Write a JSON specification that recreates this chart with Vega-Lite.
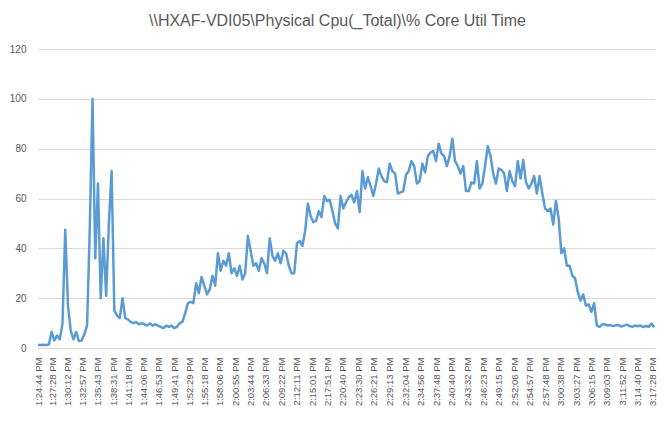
{
  "$schema": "https://vega.github.io/schema/vega-lite/v6.json",
  "width": 617,
  "height": 299,
  "autosize": "none",
  "padding": {"left": 38, "top": 49, "right": 17, "bottom": 74},
  "background": "white",
  "title": {"text": "\\\\HXAF-VDI05\\Physical Cpu(_Total)\\% Core Util Time", "fontSize": 16, "font": "Liberation Sans", "fontWeight": "normal", "color": "#595959", "anchor": "middle", "offset": 15, "dx": -9},
  "config": {"view": {"stroke": null}},
  "data": {
    "format": {"parse": {"t": "date:'%H:%M:%S'"}},
    "values": [
      {"t": "13:24:44", "v": 1.2}, {"t": "13:25:14", "v": 1.2}, {"t": "13:25:44", "v": 1.3}, {"t": "13:26:14", "v": 1.2},
      {"t": "13:26:44", "v": 1.4}, {"t": "13:27:14", "v": 6.5}, {"t": "13:27:44", "v": 3}, {"t": "13:28:14", "v": 5},
      {"t": "13:28:44", "v": 3.5}, {"t": "13:29:14", "v": 10}, {"t": "13:29:44", "v": 47.5}, {"t": "13:30:14", "v": 17},
      {"t": "13:30:44", "v": 7}, {"t": "13:31:14", "v": 3.5}, {"t": "13:31:44", "v": 6.5}, {"t": "13:32:14", "v": 2.8},
      {"t": "13:32:44", "v": 3}, {"t": "13:33:14", "v": 5.5}, {"t": "13:33:44", "v": 9}, {"t": "13:34:14", "v": 48},
      {"t": "13:34:44", "v": 100}, {"t": "13:35:14", "v": 36}, {"t": "13:35:44", "v": 66}, {"t": "13:36:14", "v": 20},
      {"t": "13:36:44", "v": 44}, {"t": "13:37:14", "v": 21}, {"t": "13:37:44", "v": 50}, {"t": "13:38:14", "v": 71},
      {"t": "13:38:44", "v": 15}, {"t": "13:39:14", "v": 13}, {"t": "13:39:44", "v": 12}, {"t": "13:40:14", "v": 20},
      {"t": "13:40:44", "v": 12}, {"t": "13:41:14", "v": 11.5}, {"t": "13:41:44", "v": 10.5}, {"t": "13:42:14", "v": 10},
      {"t": "13:42:44", "v": 10.5}, {"t": "13:43:14", "v": 9.5}, {"t": "13:43:44", "v": 10}, {"t": "13:44:14", "v": 9.5},
      {"t": "13:44:44", "v": 9}, {"t": "13:45:14", "v": 9.8}, {"t": "13:45:44", "v": 9}, {"t": "13:46:14", "v": 9.5},
      {"t": "13:46:44", "v": 9}, {"t": "13:47:14", "v": 8.5}, {"t": "13:47:44", "v": 8}, {"t": "13:48:14", "v": 9},
      {"t": "13:48:44", "v": 8.5}, {"t": "13:49:14", "v": 9}, {"t": "13:49:44", "v": 8}, {"t": "13:50:14", "v": 8.5},
      {"t": "13:50:44", "v": 10}, {"t": "13:51:14", "v": 10.5}, {"t": "13:51:44", "v": 14}, {"t": "13:52:14", "v": 18},
      {"t": "13:52:44", "v": 18.5}, {"t": "13:53:14", "v": 18}, {"t": "13:53:44", "v": 26}, {"t": "13:54:14", "v": 22},
      {"t": "13:54:44", "v": 28.5}, {"t": "13:55:14", "v": 25}, {"t": "13:55:44", "v": 21.5}, {"t": "13:56:14", "v": 23.5},
      {"t": "13:56:44", "v": 29}, {"t": "13:57:14", "v": 25}, {"t": "13:57:44", "v": 38}, {"t": "13:58:14", "v": 31},
      {"t": "13:58:44", "v": 35}, {"t": "13:59:14", "v": 33}, {"t": "13:59:44", "v": 38}, {"t": "14:00:14", "v": 30},
      {"t": "14:00:44", "v": 32}, {"t": "14:01:14", "v": 29}, {"t": "14:01:44", "v": 33}, {"t": "14:02:14", "v": 27.5},
      {"t": "14:02:44", "v": 30}, {"t": "14:03:14", "v": 45}, {"t": "14:03:44", "v": 39}, {"t": "14:04:14", "v": 33},
      {"t": "14:04:44", "v": 34}, {"t": "14:05:14", "v": 31}, {"t": "14:05:44", "v": 36}, {"t": "14:06:14", "v": 34},
      {"t": "14:06:44", "v": 30}, {"t": "14:07:14", "v": 44}, {"t": "14:07:44", "v": 37}, {"t": "14:08:14", "v": 35},
      {"t": "14:08:44", "v": 38}, {"t": "14:09:14", "v": 34}, {"t": "14:09:44", "v": 39}, {"t": "14:10:14", "v": 38},
      {"t": "14:10:44", "v": 33}, {"t": "14:11:14", "v": 30}, {"t": "14:11:44", "v": 30}, {"t": "14:12:14", "v": 42},
      {"t": "14:12:44", "v": 43}, {"t": "14:13:14", "v": 41}, {"t": "14:13:44", "v": 47}, {"t": "14:14:14", "v": 58},
      {"t": "14:14:44", "v": 53}, {"t": "14:15:14", "v": 50.5}, {"t": "14:15:44", "v": 51}, {"t": "14:16:14", "v": 55},
      {"t": "14:16:44", "v": 52.5}, {"t": "14:17:14", "v": 61}, {"t": "14:17:44", "v": 59}, {"t": "14:18:14", "v": 59.5},
      {"t": "14:18:44", "v": 55}, {"t": "14:19:14", "v": 50}, {"t": "14:19:44", "v": 48}, {"t": "14:20:14", "v": 61},
      {"t": "14:20:44", "v": 56}, {"t": "14:21:14", "v": 58.5}, {"t": "14:21:44", "v": 60.5}, {"t": "14:22:14", "v": 61.5},
      {"t": "14:22:44", "v": 58.5}, {"t": "14:23:14", "v": 63}, {"t": "14:23:44", "v": 54.5}, {"t": "14:24:14", "v": 71},
      {"t": "14:24:44", "v": 64}, {"t": "14:25:14", "v": 68.5}, {"t": "14:25:44", "v": 65}, {"t": "14:26:14", "v": 61},
      {"t": "14:26:44", "v": 66}, {"t": "14:27:14", "v": 72}, {"t": "14:27:44", "v": 69}, {"t": "14:28:14", "v": 67},
      {"t": "14:28:44", "v": 66.5}, {"t": "14:29:14", "v": 74}, {"t": "14:29:44", "v": 71}, {"t": "14:30:14", "v": 70},
      {"t": "14:30:44", "v": 62}, {"t": "14:31:14", "v": 62.5}, {"t": "14:31:44", "v": 63}, {"t": "14:32:14", "v": 69.5},
      {"t": "14:32:44", "v": 71}, {"t": "14:33:14", "v": 75}, {"t": "14:33:44", "v": 73}, {"t": "14:34:14", "v": 66},
      {"t": "14:34:44", "v": 67}, {"t": "14:35:14", "v": 74}, {"t": "14:35:44", "v": 70.5}, {"t": "14:36:14", "v": 77},
      {"t": "14:36:44", "v": 78.5}, {"t": "14:37:14", "v": 79}, {"t": "14:37:44", "v": 75}, {"t": "14:38:14", "v": 82},
      {"t": "14:38:44", "v": 78}, {"t": "14:39:14", "v": 77}, {"t": "14:39:44", "v": 73}, {"t": "14:40:14", "v": 77},
      {"t": "14:40:44", "v": 84}, {"t": "14:41:14", "v": 75}, {"t": "14:41:44", "v": 73}, {"t": "14:42:14", "v": 70},
      {"t": "14:42:44", "v": 73}, {"t": "14:43:14", "v": 63}, {"t": "14:43:44", "v": 63}, {"t": "14:44:14", "v": 66.5},
      {"t": "14:44:44", "v": 66}, {"t": "14:45:14", "v": 75}, {"t": "14:45:44", "v": 64}, {"t": "14:46:14", "v": 66},
      {"t": "14:46:44", "v": 73}, {"t": "14:47:14", "v": 81}, {"t": "14:47:44", "v": 77}, {"t": "14:48:14", "v": 70},
      {"t": "14:48:44", "v": 66}, {"t": "14:49:14", "v": 72}, {"t": "14:49:44", "v": 71.5}, {"t": "14:50:14", "v": 70},
      {"t": "14:50:44", "v": 63}, {"t": "14:51:14", "v": 71}, {"t": "14:51:44", "v": 67}, {"t": "14:52:14", "v": 65},
      {"t": "14:52:44", "v": 75}, {"t": "14:53:14", "v": 68}, {"t": "14:53:44", "v": 75.5}, {"t": "14:54:14", "v": 66.5},
      {"t": "14:54:44", "v": 64}, {"t": "14:55:14", "v": 66}, {"t": "14:55:44", "v": 69}, {"t": "14:56:14", "v": 62},
      {"t": "14:56:44", "v": 69}, {"t": "14:57:14", "v": 62}, {"t": "14:57:44", "v": 56}, {"t": "14:58:14", "v": 55},
      {"t": "14:58:44", "v": 56}, {"t": "14:59:14", "v": 49.5}, {"t": "14:59:44", "v": 59}, {"t": "15:00:14", "v": 52},
      {"t": "15:00:44", "v": 38}, {"t": "15:01:14", "v": 40}, {"t": "15:01:44", "v": 33}, {"t": "15:02:14", "v": 33},
      {"t": "15:02:44", "v": 29}, {"t": "15:03:14", "v": 28}, {"t": "15:03:44", "v": 22.5}, {"t": "15:04:14", "v": 19},
      {"t": "15:04:44", "v": 21.5}, {"t": "15:05:14", "v": 17}, {"t": "15:05:44", "v": 17.5}, {"t": "15:06:14", "v": 14.5},
      {"t": "15:06:44", "v": 18}, {"t": "15:07:14", "v": 9}, {"t": "15:07:44", "v": 8.5}, {"t": "15:08:14", "v": 9.5},
      {"t": "15:08:44", "v": 9.5}, {"t": "15:09:14", "v": 9}, {"t": "15:09:44", "v": 9.2}, {"t": "15:10:14", "v": 8.8},
      {"t": "15:10:44", "v": 9}, {"t": "15:11:14", "v": 9.2}, {"t": "15:11:44", "v": 8.6}, {"t": "15:12:14", "v": 9},
      {"t": "15:12:44", "v": 9.4}, {"t": "15:13:14", "v": 8.8}, {"t": "15:13:44", "v": 8.5}, {"t": "15:14:14", "v": 9},
      {"t": "15:14:44", "v": 8.7}, {"t": "15:15:14", "v": 9}, {"t": "15:15:44", "v": 8.4}, {"t": "15:16:14", "v": 8.8},
      {"t": "15:16:44", "v": 8.5}, {"t": "15:17:14", "v": 9.8}, {"t": "15:17:44", "v": 8.3}
    ]
  },
  "mark": {"type": "line", "color": "#5B9BD5", "strokeWidth": 2.5, "strokeJoin": "round"},
  "encoding": {
    "x": {
      "field": "t",
      "type": "temporal",
      "scale": {"domain": [
        {"year": 1900, "month": 1, "date": 1, "hours": 13, "minutes": 24, "seconds": 44},
        {"year": 1900, "month": 1, "date": 1, "hours": 15, "minutes": 17, "seconds": 54}
      ]},
      "axis": {
        "title": null,
        "format": "%-I:%M:%S %p",
        "labelAngle": -90,
        "labelFontSize": 9.5,
        "labelFont": "Liberation Sans",
        "labelColor": "#595959",
        "labelPadding": 9,
        "labelOverlap": false,
        "labelFlush": false,
        "labelBound": false,
        "ticks": false,
        "grid": false,
        "domainColor": "#d9d9d9",
        "values": [
          {"year": 1900, "month": 1, "date": 1, "hours": 13, "minutes": 24, "seconds": 44},
          {"year": 1900, "month": 1, "date": 1, "hours": 13, "minutes": 27, "seconds": 28},
          {"year": 1900, "month": 1, "date": 1, "hours": 13, "minutes": 30, "seconds": 12},
          {"year": 1900, "month": 1, "date": 1, "hours": 13, "minutes": 32, "seconds": 57},
          {"year": 1900, "month": 1, "date": 1, "hours": 13, "minutes": 35, "seconds": 43},
          {"year": 1900, "month": 1, "date": 1, "hours": 13, "minutes": 38, "seconds": 31},
          {"year": 1900, "month": 1, "date": 1, "hours": 13, "minutes": 41, "seconds": 18},
          {"year": 1900, "month": 1, "date": 1, "hours": 13, "minutes": 44, "seconds": 6},
          {"year": 1900, "month": 1, "date": 1, "hours": 13, "minutes": 46, "seconds": 53},
          {"year": 1900, "month": 1, "date": 1, "hours": 13, "minutes": 49, "seconds": 41},
          {"year": 1900, "month": 1, "date": 1, "hours": 13, "minutes": 52, "seconds": 29},
          {"year": 1900, "month": 1, "date": 1, "hours": 13, "minutes": 55, "seconds": 18},
          {"year": 1900, "month": 1, "date": 1, "hours": 13, "minutes": 58, "seconds": 6},
          {"year": 1900, "month": 1, "date": 1, "hours": 14, "minutes": 0, "seconds": 55},
          {"year": 1900, "month": 1, "date": 1, "hours": 14, "minutes": 3, "seconds": 44},
          {"year": 1900, "month": 1, "date": 1, "hours": 14, "minutes": 6, "seconds": 33},
          {"year": 1900, "month": 1, "date": 1, "hours": 14, "minutes": 9, "seconds": 22},
          {"year": 1900, "month": 1, "date": 1, "hours": 14, "minutes": 12, "seconds": 11},
          {"year": 1900, "month": 1, "date": 1, "hours": 14, "minutes": 15, "seconds": 1},
          {"year": 1900, "month": 1, "date": 1, "hours": 14, "minutes": 17, "seconds": 51},
          {"year": 1900, "month": 1, "date": 1, "hours": 14, "minutes": 20, "seconds": 40},
          {"year": 1900, "month": 1, "date": 1, "hours": 14, "minutes": 23, "seconds": 30},
          {"year": 1900, "month": 1, "date": 1, "hours": 14, "minutes": 26, "seconds": 21},
          {"year": 1900, "month": 1, "date": 1, "hours": 14, "minutes": 29, "seconds": 13},
          {"year": 1900, "month": 1, "date": 1, "hours": 14, "minutes": 32, "seconds": 4},
          {"year": 1900, "month": 1, "date": 1, "hours": 14, "minutes": 34, "seconds": 56},
          {"year": 1900, "month": 1, "date": 1, "hours": 14, "minutes": 37, "seconds": 48},
          {"year": 1900, "month": 1, "date": 1, "hours": 14, "minutes": 40, "seconds": 40},
          {"year": 1900, "month": 1, "date": 1, "hours": 14, "minutes": 43, "seconds": 32},
          {"year": 1900, "month": 1, "date": 1, "hours": 14, "minutes": 46, "seconds": 23},
          {"year": 1900, "month": 1, "date": 1, "hours": 14, "minutes": 49, "seconds": 15},
          {"year": 1900, "month": 1, "date": 1, "hours": 14, "minutes": 52, "seconds": 6},
          {"year": 1900, "month": 1, "date": 1, "hours": 14, "minutes": 54, "seconds": 57},
          {"year": 1900, "month": 1, "date": 1, "hours": 14, "minutes": 57, "seconds": 48},
          {"year": 1900, "month": 1, "date": 1, "hours": 15, "minutes": 0, "seconds": 38},
          {"year": 1900, "month": 1, "date": 1, "hours": 15, "minutes": 3, "seconds": 27},
          {"year": 1900, "month": 1, "date": 1, "hours": 15, "minutes": 6, "seconds": 15},
          {"year": 1900, "month": 1, "date": 1, "hours": 15, "minutes": 9, "seconds": 3},
          {"year": 1900, "month": 1, "date": 1, "hours": 15, "minutes": 11, "seconds": 52},
          {"year": 1900, "month": 1, "date": 1, "hours": 15, "minutes": 14, "seconds": 40},
          {"year": 1900, "month": 1, "date": 1, "hours": 15, "minutes": 17, "seconds": 28}
        ]
      }
    },
    "y": {
      "field": "v",
      "type": "quantitative",
      "scale": {"domain": [0, 120]},
      "axis": {
        "title": null,
        "values": [0, 20, 40, 60, 80, 100, 120],
        "domain": false,
        "ticks": false,
        "gridColor": "#d9d9d9",
        "labelColor": "#595959",
        "labelFontSize": 10,
        "labelFont": "Liberation Sans",
        "labelPadding": 12
      }
    }
  }
}
